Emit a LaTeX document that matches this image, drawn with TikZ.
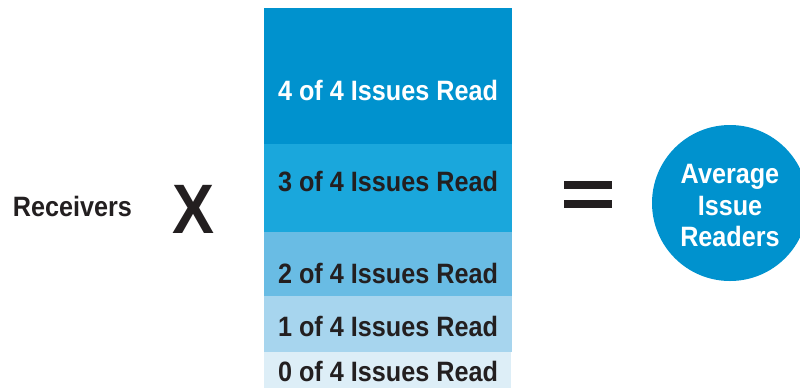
\documentclass[tikz,border=0pt]{standalone}
\usepackage{fontspec}
\newfontfamily\hv[FakeStretch=0.9]{Liberation Sans}
\definecolor{cfour}{HTML}{0092CE}
\definecolor{cthree}{HTML}{1AA7DC}
\definecolor{ctwo}{HTML}{69BCE4}
\definecolor{cone}{HTML}{A7D5EE}
\definecolor{czero}{HTML}{DDEEF7}
\definecolor{ink}{HTML}{231F20}
\tikzset{
  band/.style={draw=none, rectangle, inner sep=0pt, minimum width=248pt, anchor=north west},
  lbl/.style={font=\hv\bfseries\fontsize{28}{31}\selectfont, inner sep=0pt, anchor=base},
  bar/.style={fill=ink, draw=none, rectangle, inner sep=0pt, minimum width=48pt, minimum height=8pt},
}
\begin{document}
\begin{tikzpicture}[x=1pt,y=-1pt]
\useasboundingbox (0,0) rectangle (800,389);
\clip (0,0) rectangle (800,389);
% bands
\node[band, fill=cfour,  minimum height=136pt] (b4) at (264,8) {};
\node[band, fill=cthree, minimum height=88pt]  (b3) at (264,144) {};
\node[band, fill=ctwo,   minimum height=64pt]  (b2) at (264,232) {};
\node[band, fill=cone,   minimum height=56pt]  (b1) at (264,296) {};
\node[band, fill=czero,  minimum height=36pt, minimum width=247pt]  (b0) at (264,352) {};
% band labels
\node[lbl, text=white] (t4) at (388,100) {4 of 4 Issues Read};
\node[lbl, text=ink] (t3) at (388,191.7) {3 of 4 Issues Read};
\node[lbl, text=ink] (t2) at (388,283.3) {2 of 4 Issues Read};
\node[lbl, text=ink] (t1) at (388,336.7) {1 of 4 Issues Read};
\node[lbl, text=ink] (t0) at (388,381.7) {0 of 4 Issues Read};
% left part
\node[lbl, text=ink, anchor=base west] (rec) at (12.7,216.7) {Receivers};
\node[lbl, text=ink, font=\hv\bfseries\fontsize{70}{70}\selectfont] (times) at (193.5,233.3) {X};
% equals
\node[bar] (eqa) at (588,185) {};
\node[bar] (eqb) at (588,204) {};
% circle
\node[circle, fill=cfour, minimum size=156pt, inner sep=0pt] (avg) at (730,203) {};
\node[text=white, align=center, inner sep=0pt,
      font=\hv\bfseries\fontsize{28}{31.5}\selectfont] (avgtxt) at ([yshift=-2.5pt]avg.center) {Average\\Issue\\Readers};
\end{tikzpicture}
\end{document}
